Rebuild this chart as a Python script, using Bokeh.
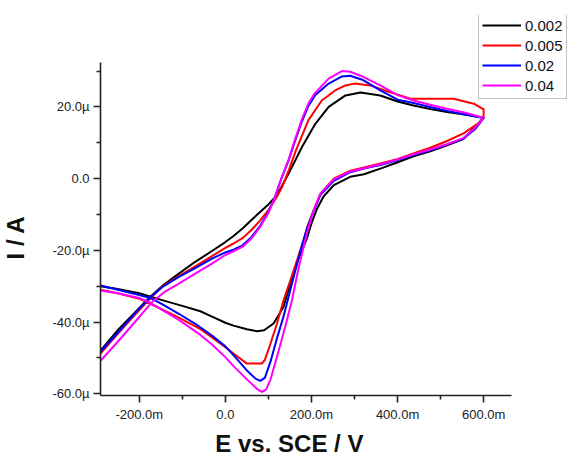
import math

from bokeh.embed import file_html
from bokeh.models import (CustomJSTickFormatter, FixedTicker, Label, Legend,
                          LegendItem, Range1d)
from bokeh.plotting import figure
from bokeh.resources import INLINE

# Cyclic voltammograms at four scan rates (V/s).
# Potential in mV vs. SCE, current in µA; each loop runs forward to 600 mV and back.
scan_rates = ["0.002", "0.005", "0.02", "0.04"]
colors = ["#000000", "#ff0000", "#0000ff", "#ff00ff"]

e_002 = [-290, -250, -210, -175, -147, -108, -70, -31, 0, 19, 40, 60, 80, 100, 120, 147, 178, 209, 240, 279,
         314, 360, 400, 437, 476, 515, 560, 600,
         580, 553, 515, 476, 437, 399, 360, 322, 290, 252, 228, 213, 200, 190, 178, 166, 151, 135, 112,
         90, 74, 50, 19, 0, -31, -58, -100, -147, -200, -250, -290]
i_002 = [-48.0, -42.3, -37.3, -33.0, -30.0, -26.5, -23.2, -20.2, -17.7, -16.0, -13.9, -11.6, -9.4, -7.2,
         -4.6, 1.4, 8.8, 15.3, 20.0, 23.2, 24.0, 23.2, 21.5, 20.4, 19.4, 18.6, 17.8, 17.0,
         14.5, 11.0, 9.3, 7.6, 6.2, 4.5, 2.8, 1.2, 0.5, -1.8, -5.0, -8.4, -12.5, -16.5, -20.0, -23.5, -29.3,
         -35.8, -40.4, -42.3, -42.6, -42.0, -41.0, -40.2, -38.5, -37.0, -35.5, -33.9, -32.0, -30.8, -30.0]

e_005 = [-290, -250, -210, -175, -147, -108, -70, -31, 0, 19, 40, 60, 80, 100, 120, 132, 148, 164, 193, 224,
         255, 279, 300, 337, 370, 399, 430, 480, 530, 577, 600,
         600, 592, 553, 515, 476, 437, 399, 360, 322, 290, 252, 221, 206, 190, 182, 170, 151, 135, 120,
         105, 92, 85, 70, 50, 19, 0, -31, -58, -108, -147, -200, -250, -290]
i_005 = [-48.8, -43.3, -38.0, -33.5, -30.2, -27.2, -24.5, -21.6, -19.3, -18.1, -16.6, -14.4, -11.8, -8.8,
         -5.0, -2.3, 2.6, 7.9, 16.3, 21.8, 24.6, 26.0, 26.5, 26.0, 24.6, 23.5, 22.3, 22.3, 22.3, 20.9,
         19.3,
         17.5, 15.8, 12.6, 10.5, 8.6, 7.0, 5.4, 4.2, 3.1, 2.2, 0.0, -4.2, -8.5, -13.5, -17.2, -21.5,
         -28.4, -34.0, -40.4, -46.0, -50.5, -51.6, -51.6, -51.6, -48.8, -47.0, -44.3, -42.0, -38.8,
         -36.5, -33.5, -32.0, -31.0]

e_02 = [-290, -250, -210, -178, -147, -108, -70, -31, 0, 19, 40, 60, 80, 100, 116, 130, 147, 162, 178, 193,
        209, 240, 271, 290, 320, 360, 400, 437, 476, 515, 560, 600,
        580, 553, 515, 476, 437, 399, 360, 322, 290, 252, 221, 206, 190, 178, 165, 150, 135, 120, 105,
        92, 81, 70, 50, 23, 0, -31, -70, -108, -147, -174, -200, -250, -290]
i_02 = [-48.3, -43.0, -37.6, -33.5, -30.3, -27.4, -25.0, -22.3, -20.6, -19.8, -18.6, -16.4, -13.3, -9.3,
        -4.9, 0.0, 5.1, 10.6, 16.0, 20.3, 23.3, 26.5, 28.5, 28.7, 27.5, 24.6, 22.0, 21.1, 20.0, 18.9,
        17.8, 16.9,
        13.8, 11.2, 9.5, 7.9, 6.6, 5.1, 3.8, 2.8, 1.8, -0.6, -4.5, -8.8, -13.8, -18.5, -24.5, -31.5,
        -38.5, -44.5, -51.0, -55.5, -56.4, -55.8, -53.5, -49.8, -46.8, -43.8, -40.5, -37.7, -35.0,
        -33.3, -32.5, -31.0, -29.8]

e_04 = [-290, -250, -210, -170, -140, -108, -70, -31, 0, 19, 40, 60, 80, 100, 116, 130, 147, 162, 178, 193,
        209, 240, 271, 290, 320, 360, 400, 437, 476, 515, 560, 600,
        580, 553, 515, 476, 437, 399, 360, 322, 290, 252, 221, 206, 190, 180, 170, 155, 143, 125, 105,
        95, 85, 75, 50, 19, 0, -31, -58, -108, -147, -178, -200, -250, -290]
i_04 = [-50.8, -45.5, -40.0, -34.4, -31.5, -29.3, -26.5, -23.7, -21.3, -20.3, -19.0, -16.8, -13.6, -9.6,
        -4.8, 0.0, 5.3, 11.0, 16.6, 21.0, 24.0, 27.9, 30.0, 29.8, 28.4, 26.0, 23.3, 21.8, 20.6, 19.5,
        18.3, 16.9,
        14.2, 11.3, 9.6, 8.1, 6.8, 5.3, 4.0, 2.9, 2.0, -0.2, -4.2, -8.5, -15.0, -20.0, -25.0, -33.8,
        -39.5, -47.5, -56.0, -58.8, -59.5, -58.8, -56.0, -52.3, -49.8, -46.3, -43.6, -39.4, -36.6,
        -34.4, -33.3, -32.0, -31.2]

potentials = [e_002, e_005, e_02, e_04]
currents = [i_002, i_005, i_02, i_04]

x_ticks = [-200, 0, 200, 400, 600]
x_labels = ["-200.0m", "0.0", "200.0m", "400.0m", "600.0m"]
x_minor = [-100, 100, 300, 500]
y_ticks = [-60, -40, -20, 0, 20]
y_labels = ["-60.0\u00b5", "-40.0\u00b5", "-20.0\u00b5", "0.0", "20.0\u00b5"]
y_minor = [-50, -30, -10, 10, 30]

# extent of the drawn axis lines
x_axis_span = (-290, 664)
y_axis_span = (-60.5, 32.4)

FONT = "Liberation Sans"

# The frame reaches up and right past the axis lines so the legend box fits inside it.
p = figure(width=577, height=460, output_backend="svg", toolbar_location=None,
           x_range=Range1d(-290, 811), y_range=Range1d(-60.5, 45.5),
           min_border_left=100, min_border_right=3, min_border_top=15, min_border_bottom=65)
p.outline_line_color = None
p.background_fill_color = "white"
p.border_fill_color = "white"
p.xgrid.visible = False
p.ygrid.visible = False

label_js = "const i = tvals.indexOf(tick); return i >= 0 ? tlabels[i] : '';"
p.xaxis.ticker = FixedTicker(ticks=x_ticks, minor_ticks=x_minor)
p.yaxis.ticker = FixedTicker(ticks=y_ticks, minor_ticks=y_minor)
p.xaxis.formatter = CustomJSTickFormatter(args=dict(tvals=x_ticks, tlabels=x_labels), code=label_js)
p.yaxis.formatter = CustomJSTickFormatter(args=dict(tvals=y_ticks, tlabels=y_labels), code=label_js)
p.xaxis.bounds = x_axis_span
p.yaxis.bounds = y_axis_span

for ax in (p.xaxis[0], p.yaxis[0]):
    ax.axis_line_width = 1.6
    ax.axis_line_color = "#222222"
    ax.major_tick_line_width = 1.6
    ax.major_tick_line_color = "#222222"
    ax.minor_tick_line_width = 1.6
    ax.minor_tick_line_color = "#222222"
    ax.major_tick_out = 7
    ax.major_tick_in = 0
    ax.minor_tick_out = 4
    ax.minor_tick_in = 0
    ax.major_label_text_font = FONT
    ax.major_label_text_font_size = "13px"
    ax.major_label_text_color = "#222222"
    ax.major_label_standoff = 4

renderers = []
for e, cur, col in zip(potentials, currents, colors):
    r = p.line(e, cur, line_color=col, line_width=2, line_join="round")
    renderers.append(r)

legend = Legend(items=[LegendItem(label=s, renderers=[r]) for s, r in zip(scan_rates, renderers)],
                location=(378, 296), margin=0, padding=3, spacing=0,
                glyph_width=39, glyph_height=20, label_height=20, label_standoff=4,
                label_text_font=FONT, label_text_font_size="15px", label_text_color="#111111",
                border_line_color="#888888", border_line_width=1, background_fill_color="white")
p.add_layout(legend)

# axis titles, placed in the side panels so they are not clipped to the frame
p.add_layout(Label(x=148.7, y=-73.8, text="E vs. SCE / V", text_align="center", text_baseline="middle",
                   text_font=FONT, text_font_style="bold", text_font_size="24px", text_color="#111111"),
             "below")
p.add_layout(Label(x=-487.8, y=-16.4, text="I / A", angle=math.pi / 2, text_align="center",
                   text_baseline="middle", text_font=FONT, text_font_style="bold",
                   text_font_size="24px", text_color="#111111"),
             "left")

open("out.html", "w").write(file_html(p, INLINE))
